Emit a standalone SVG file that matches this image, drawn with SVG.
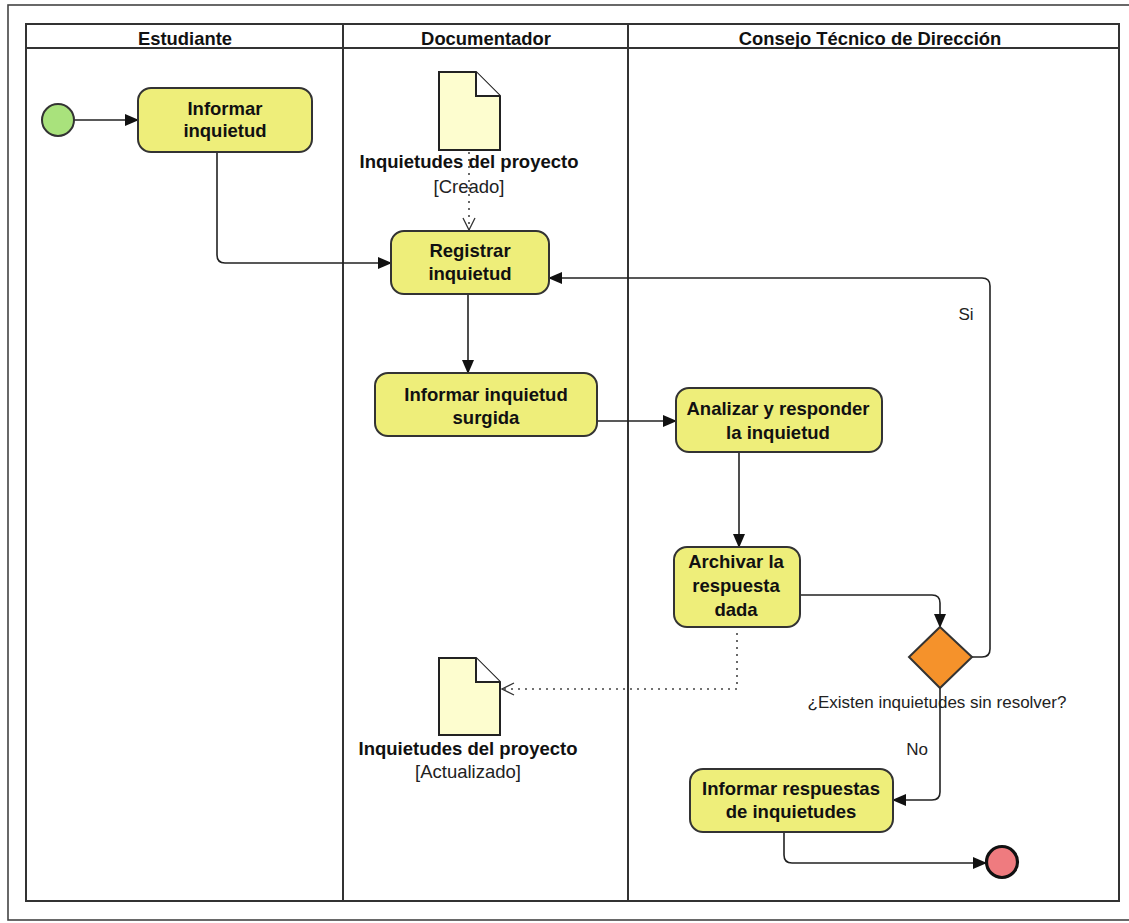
<svg xmlns="http://www.w3.org/2000/svg" width="1129" height="923" viewBox="0 0 1129 923">
<defs>
<marker id="arr" markerWidth="14" markerHeight="12" refX="13" refY="6" orient="auto" markerUnits="userSpaceOnUse">
<path d="M0,0 L14,6 L0,12 Z" fill="#111"/>
</marker>
<marker id="open" markerWidth="14" markerHeight="14" refX="13" refY="7" orient="auto" markerUnits="userSpaceOnUse">
<path d="M1,1 L13,7 L1,13" fill="none" stroke="#333" stroke-width="1.3"/>
</marker>
<style>
.lane{fill:none;stroke:#333;stroke-width:2}
.hdr{font-family:"Liberation Sans",Arial,sans-serif;font-weight:bold;font-size:18.4px;fill:#111;text-anchor:middle}
.act{fill:#eeee7a;stroke:#333;stroke-width:2}
.t{font-family:"Liberation Sans",Arial,sans-serif;font-weight:bold;font-size:18.5px;fill:#111;text-anchor:middle}
.lbl{font-family:"Liberation Sans",Arial,sans-serif;font-size:17px;fill:#222;text-anchor:middle}
.st{font-family:"Liberation Sans",Arial,sans-serif;font-size:18.5px;fill:#222;text-anchor:middle}
.doc{fill:#fdfdcf;stroke:#222;stroke-width:2}
.edge{fill:none;stroke:#222;stroke-width:1.6}
.dot{fill:none;stroke:#444;stroke-width:1.6;stroke-dasharray:2 5}
</style>
</defs>
<rect x="0" y="0" width="1129" height="923" fill="#fff"/>
<g id="frame">
<rect x="8" y="5" width="1130" height="915" fill="none" stroke="#444" stroke-width="1.6"/>
</g>
<g id="lanes">
<rect class="lane" x="26" y="24" width="1093" height="877"/>
<line class="lane" x1="26" y1="48" x2="1119" y2="48"/>
<line class="lane" x1="343" y1="24" x2="343" y2="901"/>
<line class="lane" x1="628" y1="24" x2="628" y2="901"/>
<text class="hdr" x="185" y="45">Estudiante</text>
<text class="hdr" x="486" y="45">Documentador</text>
<text class="hdr" x="870" y="45">Consejo Técnico de Dirección</text>
</g>
<g id="connectors">
<line class="edge" x1="74" y1="120" x2="138" y2="120" marker-end="url(#arr)"/>
<path class="edge" d="M217,152 L217,255 Q217,263 225,263 L391,263" marker-end="url(#arr)"/>
<line class="dot" x1="469" y1="152" x2="469" y2="230" marker-end="url(#open)"/>
<line class="edge" x1="468" y1="293" x2="468" y2="373" marker-end="url(#arr)"/>
<line class="edge" x1="597" y1="421" x2="676" y2="421" marker-end="url(#arr)"/>
<line class="edge" x1="739" y1="453" x2="739" y2="547" marker-end="url(#arr)"/>
<path class="edge" d="M800,595 L932,595 Q940,595 940,603 L940,627" marker-end="url(#arr)"/>
<path class="edge" d="M972,657 L982,657 Q990,657 990,649 L990,286 Q990,278 982,278 L549,278" marker-end="url(#arr)"/>
<path class="edge" d="M940,688 L940,792 Q940,800 932,800 L893,800" marker-end="url(#arr)"/>
<path class="edge" d="M784,832 L784,855 Q784,863 792,863 L986,863" marker-end="url(#arr)"/>
<path class="dot" d="M737,633 L737,689 L502,689" marker-end="url(#open)"/>
<text class="lbl" x="966" y="320">Si</text>
<text class="lbl" x="917" y="755">No</text>
</g>
<g id="start">
<circle cx="58" cy="120" r="16" fill="#a9e27c" stroke="#333" stroke-width="2"/>
</g>
<g id="informar-inquietud">
<rect class="act" x="138" y="88" width="174" height="64" rx="13"/>
<text class="t" x="225" y="115">Informar</text>
<text class="t" x="225" y="137">inquietud</text>
</g>
<g id="doc-creado">
<path class="doc" d="M439,72 L476,72 L500,96 L500,150 L439,150 Z"/>
<path d="M476,72 L476,96 L500,96" fill="#fff" stroke="#222" stroke-width="2"/>
<text class="t" x="469" y="168">Inquietudes del proyecto</text>
<text class="st" x="469" y="193">[Creado]</text>
</g>
<g id="registrar">
<rect class="act" x="391" y="231" width="158" height="63" rx="13"/>
<text class="t" x="470" y="257">Registrar</text>
<text class="t" x="470" y="280">inquietud</text>
</g>
<g id="informar-surgida">
<rect class="act" x="375" y="373" width="222" height="63" rx="13"/>
<text class="t" x="486" y="401">Informar inquietud</text>
<text class="t" x="486" y="424">surgida</text>
</g>
<g id="analizar">
<rect class="act" x="676" y="388" width="206" height="64" rx="13"/>
<text class="t" x="778" y="415">Analizar y responder</text>
<text class="t" x="778" y="439">la inquietud</text>
</g>
<g id="archivar">
<rect class="act" x="674" y="547" width="126" height="80" rx="13"/>
<text class="t" x="736" y="568">Archivar la</text>
<text class="t" x="736" y="592">respuesta</text>
<text class="t" x="736" y="616">dada</text>
</g>
<g id="decision">
<path d="M940,627 L972,657 L940,688 L909,657 Z" fill="#f5922b" stroke="#333" stroke-width="2"/>
<text class="lbl" x="937" y="708">¿Existen inquietudes sin resolver?</text>
</g>
<g id="doc-actualizado">
<path class="doc" d="M439,658 L476,658 L500,682 L500,735 L439,735 Z"/>
<path d="M476,658 L476,682 L500,682" fill="#fff" stroke="#222" stroke-width="2"/>
<text class="t" x="468" y="755">Inquietudes del proyecto</text>
<text class="st" x="468" y="778">[Actualizado]</text>
</g>
<g id="informar-respuestas">
<rect class="act" x="690" y="769" width="203" height="63" rx="13"/>
<text class="t" x="791" y="795">Informar respuestas</text>
<text class="t" x="791" y="818">de inquietudes</text>
</g>
<g id="end">
<circle cx="1002" cy="862" r="15.5" fill="#ef7b7f" stroke="#111" stroke-width="3.2"/>
</g>
</svg>
